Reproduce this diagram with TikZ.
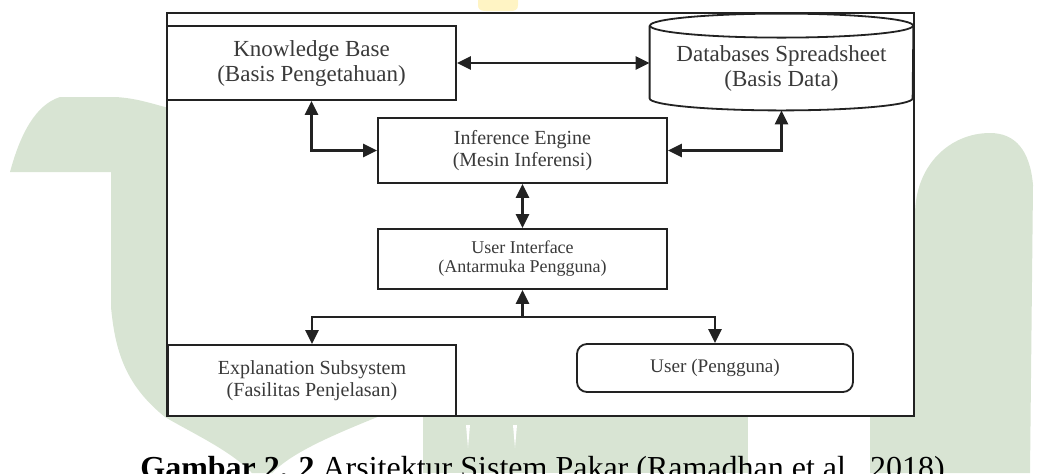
\documentclass[tikz,border=0pt]{standalone}
\usepackage{fontspec}
\setmainfont{Liberation Serif}
\usetikzlibrary{arrows.meta}
\definecolor{markGreen}{RGB}{216,228,211}
\definecolor{markYellow}{RGB}{255,244,196}
\definecolor{lineGray}{RGB}{34,34,34}
\definecolor{textGray}{RGB}{58,58,58}
\def\boxWidth{144.5pt}
\def\leftColX{311.5}
\def\midColX{522.5}
\def\dbColX{781.5}
\def\splitY{317}
\tikzset{
  boxNode/.style={
    draw=lineGray,
    line width=0.9pt,
    fill=white,
    align=center,
    text=textGray,
    inner sep=0pt,
    minimum width=\boxWidth
  },
  bigText/.style={font=\fontsize{11.5}{12.5}\selectfont},
  midText/.style={font=\fontsize{10}{11.2}\selectfont},
  smallText/.style={font=\fontsize{9}{9.5}\selectfont},
  userNode/.style={
    boxNode,
    rounded corners=5pt,
    minimum width=138pt,
    minimum height=24pt
  },
  arrowLine/.style={draw=lineGray,line width=1.2pt,-{Triangle[length=7pt,width=6.5pt]}},
  bothArrow/.style={arrowLine,{Triangle[length=7pt,width=6.5pt]}-{Triangle[length=7pt,width=6.5pt]}},
  watermark/.style={fill=markGreen,draw=none}
}

\begin{document}
\begin{tikzpicture}[x=0.5pt,y=-0.5pt]
  \useasboundingbox (0,0) rectangle (1060,473);

  % watermark behind the frame
  \fill[watermark] (10,172) .. controls (20,135) and (35,105) .. (60,97) -- (115,97)
    .. controls (135,98) and (150,103) .. (165,107) -- (250,107) -- (380,416)
    .. controls (320,440) and (290,455) .. (272,473) -- (252,473)
    .. controls (230,450) and (190,432) .. (165,417)
    .. controls (125,385) and (115,350) .. (111,307) -- (111,172) -- cycle;
  \fill[watermark] (423,416) rectangle (748,473);
  \fill[white] (466,425) -- (470,425) -- (468,448) -- cycle;
  \fill[white] (513,425) -- (517,425) -- (515,448) -- cycle;
  \fill[watermark] (870,473) -- (870,300) -- (915,300) -- (915,215)
    .. controls (915,165) and (950,133) .. (990,133)
    .. controls (1015,133) and (1030,150) .. (1033,185) -- (1030,473) -- cycle;
  \fill[markYellow] (478,0) -- (518,0) -- (518,5) .. controls (518,10) and (515,11) .. (510,11)
    -- (486,11) .. controls (480,11) and (478,9) .. (478,5) -- cycle;

  % frame
  \draw[draw=lineGray,line width=1.1pt,fill=white] (167,13) rectangle (914,416);

  % blocks
  \node[boxNode,bigText,minimum height=37pt] (kb) at (\leftColX,63)
    {Knowledge Base\\(Basis Pengetahuan)};
  \node[bigText,align=center,text=textGray,inner sep=0pt,minimum width=131.5pt,minimum height=42pt]
    (db) at (\dbColX,68) {Databases Spreadsheet\\(Basis Data)};
  \draw[draw=lineGray,line width=0.9pt] (db.north west) -- ([yshift=6pt]db.south west)
    arc[start angle=180,end angle=360,x radius=65.75pt,y radius=6pt] -- (db.north east);
  \draw[draw=lineGray,line width=0.9pt] (db.north) ellipse[x radius=65.75pt,y radius=6pt];
  \node[boxNode,midText,minimum height=32.5pt] (ie) at (\midColX,150.5)
    {Inference Engine\\(Mesin Inferensi)};
  \node[boxNode,smallText,minimum height=30pt] (ui) at (\midColX,259)
    {User Interface\\(Antarmuka Pengguna)};
  \node[boxNode,midText,minimum width=144pt,minimum height=35.5pt] (ex) at (312,380.5)
    {Explanation Subsystem\\(Fasilitas Penjelasan)};
  \node[userNode,font=\fontsize{9.6}{11}\selectfont] (us) at (715,368) {User (Pengguna)};

  % connectors
  \draw[bothArrow] (kb.east) -- (kb.east -| db.west);
  \draw[bothArrow] (kb.south) |- (ie.west);
  \draw[bothArrow] (ie.east) -| (db.south);
  \draw[bothArrow] (ie.south) -- (ui.north);
  \coordinate (split) at (\midColX,\splitY);
  \draw[arrowLine] (split) -- (ui.south);
  \draw[arrowLine] (split) -| (ex.north);
  \draw[arrowLine] (split) -| (us.north);

  % caption
  \node[anchor=base west,inner sep=0pt,font=\fontsize{16}{18}\selectfont] (caption) at (140,478)
    {\textbf{Gambar 2. 2} Arsitektur Sistem Pakar (Ramadhan et al., 2018)};
\end{tikzpicture}
\end{document}
